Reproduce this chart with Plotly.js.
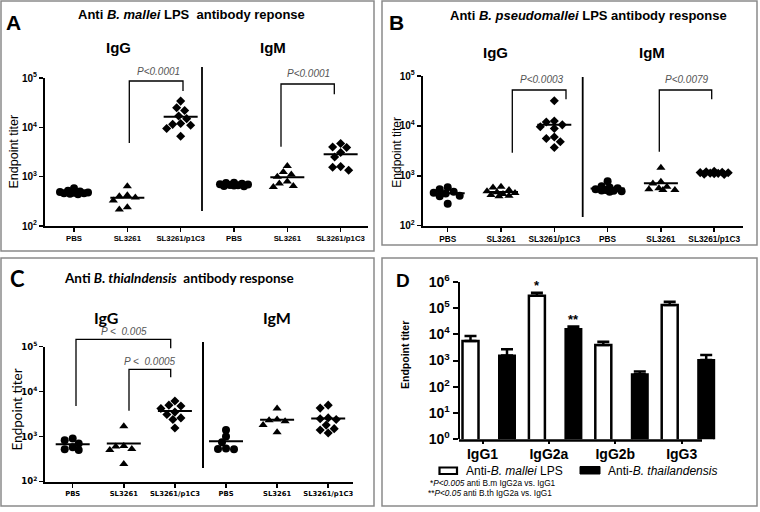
<!DOCTYPE html>
<html><head><meta charset="utf-8">
<script src="https://cdn.plot.ly/plotly-3.0.1.min.js"></script>
<style>html,body{margin:0;padding:0;background:#fff}</style>
</head><body><div id="chart" style="width:760px;height:512px"></div>
<script>
// ---------------- data ----------------
const groupLabels = ["PBS", "SL3261", "SL3261/p1C3", "PBS", "SL3261", "SL3261/p1C3"];
const groupSymbols = ["circle", "triangle-up", "diamond", "circle", "triangle-up", "diamond"];
const yTickVals = [100, 1000, 10000, 100000];
const yTickText = ["10<sup>2</sup>", "10<sup>3</sup>", "10<sup>4</sup>", "10<sup>5</sup>"];

// Panel A: anti B. mallei LPS
const malleiIgG_PBS = [580, 520, 500, 490, 480, 470, 460, 460, 450, 440];
const malleiIgG_SL3261 = [640, 420, 400, 380, 330, 240, 215];
const malleiIgG_p1C3 = [34000, 25000, 22000, 17000, 15000, 12000, 11500, 11000, 9500, 6600];
const malleiIgM_PBS = [750, 740, 720, 700, 690, 680, 670, 660, 650, 640];
const malleiIgM_SL3261 = [1650, 1250, 1100, 1000, 800, 730, 650, 620];
const malleiIgM_p1C3 = [4700, 4000, 3900, 3100, 2500, 1600, 1550, 1350];

// Panel B: anti B. pseudomallei LPS
const pseudoIgG_PBS = [590, 540, 480, 460, 440, 400, 390, 275];
const pseudoIgG_SL3261 = [600, 580, 520, 490, 470, 450, 430, 410, 400, 390];
const pseudoIgG_p1C3 = [32000, 12500, 12000, 10500, 9600, 8900, 6000, 5600, 4800, 3700];
const pseudoIgM_PBS = [780, 620, 580, 560, 540, 520, 510, 500, 490, 480];
const pseudoIgM_SL3261 = [1450, 760, 700, 600, 560, 540, 520, 520];
const pseudoIgM_p1C3 = [1230, 1200, 1180, 1160, 1150, 1130, 1120, 1100, 1080, 1060];

// Panel C: anti B. thailandensis
const thaiIgG_PBS = [900, 830, 700, 580, 520, 500];
const thaiIgG_SL3261 = [1700, 620, 600, 530, 500, 245];
const thaiIgG_p1C3 = [6200, 5000, 4800, 4200, 3500, 3100, 2600, 2400, 1550];
const thaiIgM_PBS = [1400, 1000, 750, 540, 520, 530];
const thaiIgM_SL3261 = [4200, 2400, 2300, 2200, 1800, 1250];
const thaiIgM_p1C3 = [5000, 4300, 2600, 2500, 2400, 1800, 1500, 1400, 1200];

// Panel D: IgG subclasses
const subclasses = ["IgG1", "IgG2a", "IgG2b", "IgG3"];
const malleiSubTiter = [5500, 295000, 3900, 130000];
const malleiSubSEM = [3100, 85000, 1300, 44000];
const thaiSubTiter = [1540, 15800, 297, 1050];
const thaiSubSEM = [1120, 3700, 81, 570];
const dTickVals = [1, 10, 100, 1000, 10000, 100000, 1000000];
const dTickText = ["10<sup>0</sup>", "10<sup>1</sup>", "10<sup>2</sup>", "10<sup>3</sup>", "10<sup>4</sup>", "10<sup>5</sup>", "10<sup>6</sup>"];

// ---------------- layout helpers ----------------
const W = 760, H = 512;
const px = x => x / W;
const py = y => 1 - y / H;
const ARIAL = 'Liberation Sans, Arial, sans-serif';
const LATO = 'Lato, sans-serif';
const DJV = 'DejaVu Sans, sans-serif';

function mean(a) { return a.reduce((s, v) => s + v, 0) / a.length; }

// simple deterministic beeswarm (offsets in pixels -> axis units)
function swarm(vals, pxPerUnit, pxPerDec, diam, maxOff) {
  const idx = vals.map((v, i) => i).sort((a, b) => vals[b] - vals[a]);
  const placed = [];
  const off = new Array(vals.length).fill(0);
  const cands = [0];
  for (let s = 2; s <= maxOff; s += 2) { cands.push(-s, s); }
  for (const i of idx) {
    const y = Math.log10(vals[i]) * pxPerDec;
    let best = 0, bestD = -1;
    for (const o of cands) {
      let dmin = Infinity;
      placed.forEach(p => { const d = Math.hypot(p.x - o, p.y - y); if (d < dmin) dmin = d; });
      if (dmin >= diam) { best = o; bestD = dmin; break; }
      if (dmin > bestD + 0.5) { bestD = dmin; best = o; }
    }
    placed.push({ x: best, y: y });
    off[i] = best / pxPerUnit;
  }
  return off;
}

const panels = [
  { xa: 'x', ya: 'y', left: 45, right: 368, x0: 74, step: 53.33, bottom: 226, top: 78,
    series: [malleiIgG_PBS, malleiIgG_SL3261, malleiIgG_p1C3, malleiIgM_PBS, malleiIgM_SL3261, malleiIgM_p1C3],
    xfont: { family: ARIAL, size: 7.8, color: '#000' }, yfont: { family: ARIAL, size: 10, color: '#000' } },
  { xa: 'x2', ya: 'y2', left: 422.7, right: 742.7, x0: 447.7, step: 53.3, bottom: 225.7, top: 76,
    series: [pseudoIgG_PBS, pseudoIgG_SL3261, pseudoIgG_p1C3, pseudoIgM_PBS, pseudoIgM_SL3261, pseudoIgM_p1C3],
    xfont: { family: ARIAL, size: 8.3, color: '#000' }, yfont: { family: ARIAL, size: 10, color: '#000' } },
  { xa: 'x3', ya: 'y3', left: 45, right: 353.3, x0: 72.7, step: 51.1, bottom: 481.5, top: 346.7,
    series: [thaiIgG_PBS, thaiIgG_SL3261, thaiIgG_p1C3, thaiIgM_PBS, thaiIgM_SL3261, thaiIgM_p1C3],
    xfont: { family: DJV, size: 6.8, color: '#000' }, yfont: { family: DJV, size: 8.5, color: '#000' } }
];

const traces = [];
const layout = {
  width: W, height: H, autosize: false,
  margin: { l: 0, r: 0, t: 0, b: 0, pad: 0 },
  paper_bgcolor: '#fff', plot_bgcolor: 'rgba(0,0,0,0)',
  showlegend: false, barmode: 'overlay',
  shapes: [], annotations: []
};

const symSize = { 'circle': 8, 'triangle-up': 8, 'diamond': 7 };
const symSpan = { 'circle': 8, 'triangle-up': 8.5, 'diamond': 9 };

panels.forEach((p, pi) => {
  const n = pi === 0 ? '' : String(pi + 1);
  const pxPerDec = (p.bottom - p.top) / 3;
  p.series.forEach((vals, gi) => {
    const sym = groupSymbols[gi];
    const off = swarm(vals, p.step, pxPerDec, symSpan[sym] * 0.8, 15);
    traces.push({
      type: 'scatter', mode: 'markers', xaxis: p.xa, yaxis: p.ya,
      x: vals.map((v, j) => gi + off[j]), y: vals, cliponaxis: false, hoverinfo: 'skip',
      marker: { symbol: sym, size: symSize[sym], color: '#000', line: { width: 0 } }
    });
    const m = mean(vals);
    const hw = 17 / p.step;
    traces.push({
      type: 'scatter', mode: 'lines', xaxis: p.xa, yaxis: p.ya, cliponaxis: false, hoverinfo: 'skip',
      x: [gi - hw, gi + hw], y: [m, m], line: { color: '#000', width: 2 }
    });
  });
  layout['xaxis' + n] = {
    domain: [px(p.left), px(p.right)], range: [(p.left - p.x0) / p.step, (p.right - p.x0) / p.step],
    anchor: p.ya, tickvals: [0, 1, 2, 3, 4, 5], ticktext: groupLabels.map(t => '<b>' + t + '</b>'),
    ticks: 'outside', ticklen: 4, tickwidth: 1.5, tickcolor: '#000', tickfont: p.xfont,
    showline: true, linewidth: 2, linecolor: '#000', showgrid: false, zeroline: false,
    automargin: false, fixedrange: true
  };
  layout['yaxis' + n] = {
    type: 'log', domain: [py(p.bottom), py(p.top)], range: [2, 5], anchor: p.xa,
    tickvals: yTickVals, ticktext: yTickText.map(t => '<b>' + t + '</b>'),
    ticks: 'outside', ticklen: 4, tickwidth: 1.5, tickcolor: '#000', tickfont: p.yfont,
    showline: true, linewidth: 2, linecolor: '#000', showgrid: false, zeroline: false,
    automargin: false, fixedrange: true
  };
});

// Panel D bars (plot area widened so the last bar is not clipped; axis line drawn to 702px)
const dX0 = 482.5, dStep = 66.4, dLeft = 460, dRight = 720, dLineEnd = 702, dBottom = 439.3, dTop = 281.7;
const barW = 16 / dStep;
const whiteShift = -12 / dStep, blackShift = 24.5 / dStep;
const idxD = subclasses.map((s, i) => i);
traces.push({
  type: 'bar', xaxis: 'x4', yaxis: 'y4', x: idxD, y: malleiSubTiter, width: barW, offset: whiteShift - barW / 2,
  cliponaxis: false, marker: { color: '#fff', line: { color: '#000', width: 2.5 } }, hoverinfo: 'skip',
  error_y: { type: 'data', symmetric: false, array: malleiSubSEM, arrayminus: malleiSubSEM.map(() => 0), color: '#000', thickness: 2.5, width: 6 }
});
traces.push({
  type: 'bar', xaxis: 'x4', yaxis: 'y4', x: idxD, y: thaiSubTiter, width: barW, offset: blackShift - barW / 2,
  cliponaxis: false, marker: { color: '#000', line: { color: '#000', width: 2 } }, hoverinfo: 'skip',
  error_y: { type: 'data', symmetric: false, array: thaiSubSEM, arrayminus: thaiSubSEM.map(() => 0), color: '#000', thickness: 2.5, width: 6 }
});
layout.xaxis4 = {
  domain: [px(dLeft), px(dRight)], range: [(dLeft - dX0) / dStep, (dRight - dX0) / dStep], anchor: 'y4',
  tickvals: idxD, ticktext: subclasses.map(t => '<b>' + t + '</b>'),
  ticks: 'outside', ticklen: 4, tickwidth: 2, tickcolor: '#000', tickfont: { family: ARIAL, size: 14, color: '#000' },
  ticklabelstandoff: -2,
  showline: false, showgrid: false, zeroline: false, automargin: false, fixedrange: true
};
layout.yaxis4 = {
  type: 'log', domain: [py(dBottom), py(dTop)], range: [0, 6], anchor: 'x4',
  tickvals: dTickVals, ticktext: dTickText.map(t => '<b>' + t + '</b>'),
  ticks: 'outside', ticklen: 5, tickwidth: 2, tickcolor: '#000', tickfont: { family: ARIAL, size: 14, color: '#000' },
  showline: true, linewidth: 2.5, linecolor: '#000', showgrid: false, zeroline: false, automargin: false, fixedrange: true
};

// ---------------- decorations ----------------
const S = layout.shapes, A = layout.annotations;
function rect(x0, y0, x1, y1, col, w, fill) {
  S.push({ type: 'rect', xref: 'paper', yref: 'paper', x0: px(x0), x1: px(x1), y0: py(y0), y1: py(y1),
    line: { color: col, width: w }, fillcolor: fill || 'rgba(0,0,0,0)', layer: 'below' });
}
function vline(x, y0, y1, w) {
  S.push({ type: 'line', xref: 'paper', yref: 'paper', x0: px(x), x1: px(x), y0: py(y0), y1: py(y1), line: { color: '#000', width: w } });
}
function hline(x0, x1, y, w) {
  S.push({ type: 'line', xref: 'paper', yref: 'paper', x0: px(x0), x1: px(x1), y0: py(y), y1: py(y), line: { color: '#000', width: w } });
}
function bracket(x1, x2, yt, yb1, yb2) {
  S.push({ type: 'path', xref: 'paper', yref: 'paper',
    path: `M ${px(x1)} ${py(yb1)} L ${px(x1)} ${py(yt)} L ${px(x2)} ${py(yt)} L ${px(x2)} ${py(yb2)}`,
    line: { color: '#000', width: 1.3 } });
}
function txt(x, y, text, font, xanchor, angle) {
  A.push({ xref: 'paper', yref: 'paper', x: px(x), y: py(y), text: text, showarrow: false, font: font,
    xanchor: xanchor || 'center', yanchor: 'middle', textangle: angle || 0, borderpad: 0, align: 'left' });
}

// panel frames
rect(1, 1, 374, 251, '#8a8a8a', 1.5);
rect(382, 1, 757, 245, '#8a8a8a', 1.5);
rect(1, 258, 374, 506, '#8a8a8a', 1.5);
rect(382, 258, 757, 506, '#8a8a8a', 1.5);

// D x axis line
hline(dLeft - 1, dLineEnd, dBottom + 1.2, 2.5);

// dividers
vline(202, 67, 211, 1.8);
vline(582.7, 77, 217, 1.8);
vline(203, 342, 468, 2);

// brackets
bracket(129.3, 183, 81, 143, 91);
bracket(281, 334.3, 84, 146.7, 94.3);
bracket(512.3, 566, 90, 152.7, 99.3);
bracket(659.3, 711.7, 90, 151.7, 99.3);
bracket(76, 170.7, 339.3, 406, 348.3);
bracket(129, 170.7, 369.3, 410.7, 377.3);

const pFont = { family: ARIAL, size: 10, color: '#555' };
txt(158, 71.5, '<i>P&lt;0.0001</i>', pFont);
txt(308.3, 73, '<i>P&lt;0.0001</i>', pFont);
txt(541.7, 79.5, '<i>P&lt;0.0003</i>', pFont);
txt(687.3, 79.5, '<i>P&lt;0.0079</i>', pFont);
txt(123.5, 331.7, '<i>P &lt;&nbsp; 0.005</i>', pFont);
txt(149.5, 361.7, '<i>P &lt;&nbsp; 0.0005</i>', pFont);

// titles
const tFont = { family: ARIAL, size: 13, color: '#000' };
txt(191.7, 14.5, '<b>Anti <i>B. mallei</i> LPS&nbsp; antibody reponse</b>', tFont);
txt(588.3, 15.5, '<b>Anti <i>B. pseudomallei</i> LPS antibody response</b>', tFont);
txt(179, 278, '<b>Anti <i>B. thialndensis</i>&nbsp; antibody response</b>', { family: LATO, size: 13.5, color: '#000' });

// panel letters
txt(13.5, 22.5, '<b>A</b>', { family: ARIAL, size: 21, color: '#000' });
txt(396.7, 22, '<b>B</b>', { family: ARIAL, size: 21, color: '#000' });
txt(17.5, 278, '<b>C</b>', { family: LATO, size: 22, color: '#000' });
txt(403, 280, '<b>D</b>', { family: ARIAL, size: 19, color: '#000' });

// IgG / IgM headers
const hFont = { family: ARIAL, size: 15, color: '#000' };
txt(118.3, 47, '<b>IgG</b>', hFont);
txt(272.7, 47, '<b>IgM</b>', hFont);
txt(495, 52, '<b>IgG</b>', hFont);
txt(651.7, 52, '<b>IgM</b>', hFont);
txt(106, 317, '<b>IgG</b>', { family: LATO, size: 16, color: '#000' });
txt(277.3, 317, '<b>IgM</b>', { family: LATO, size: 16, color: '#000' });

// y axis titles
txt(13.5, 152, 'Endpoint titer', { family: ARIAL, size: 12.5, color: '#000' }, 'center', -90);
txt(396.7, 152, 'Endpoint titer', { family: ARIAL, size: 12, color: '#000' }, 'center', -90);
txt(16.5, 410, 'Endpoint titer', { family: LATO, size: 13.5, color: '#000' }, 'center', -90);
txt(405, 355, '<b>Endpoint titer</b>', { family: ARIAL, size: 10.5, color: '#000' }, 'center', -90);

// significance stars in D (anchored to the data)
A.push({ xref: 'x4', yref: 'y4', x: 1 + whiteShift, y: Math.log10(malleiSubTiter[1] + malleiSubSEM[1]), text: '<b>*</b>',
  showarrow: false, yanchor: 'bottom', yshift: -2, font: { family: ARIAL, size: 13, color: '#000' } });
A.push({ xref: 'x4', yref: 'y4', x: 1 + blackShift, y: Math.log10(thaiSubTiter[1] + thaiSubSEM[1]), text: '<b>**</b>',
  showarrow: false, yanchor: 'bottom', yshift: -2, font: { family: ARIAL, size: 13, color: '#000' } });

// D legend
rect(439.5, 467.5, 457, 474, '#000', 2.2, '#fff');
rect(580, 466.5, 600, 474, '#000', 1, '#000');
txt(465, 471, 'Anti-<i>B. mallei</i> LPS', { family: ARIAL, size: 12, color: '#000' }, 'left');
txt(607, 471, 'Anti-<i>B. thailandensis</i>', { family: ARIAL, size: 12, color: '#000' }, 'left');
txt(429, 482.5, '*<i>P&lt;0.005</i> anti B.m IgG2a vs. IgG1', { family: ARIAL, size: 8.3, color: '#000' }, 'left');
txt(426.5, 493, '**<i>P&lt;0.05</i> anti B.th IgG2a vs. IgG1', { family: ARIAL, size: 8.3, color: '#000' }, 'left');

Plotly.newPlot('chart', traces, layout, { staticPlot: true, displayModeBar: false });
</script>
</body></html>
